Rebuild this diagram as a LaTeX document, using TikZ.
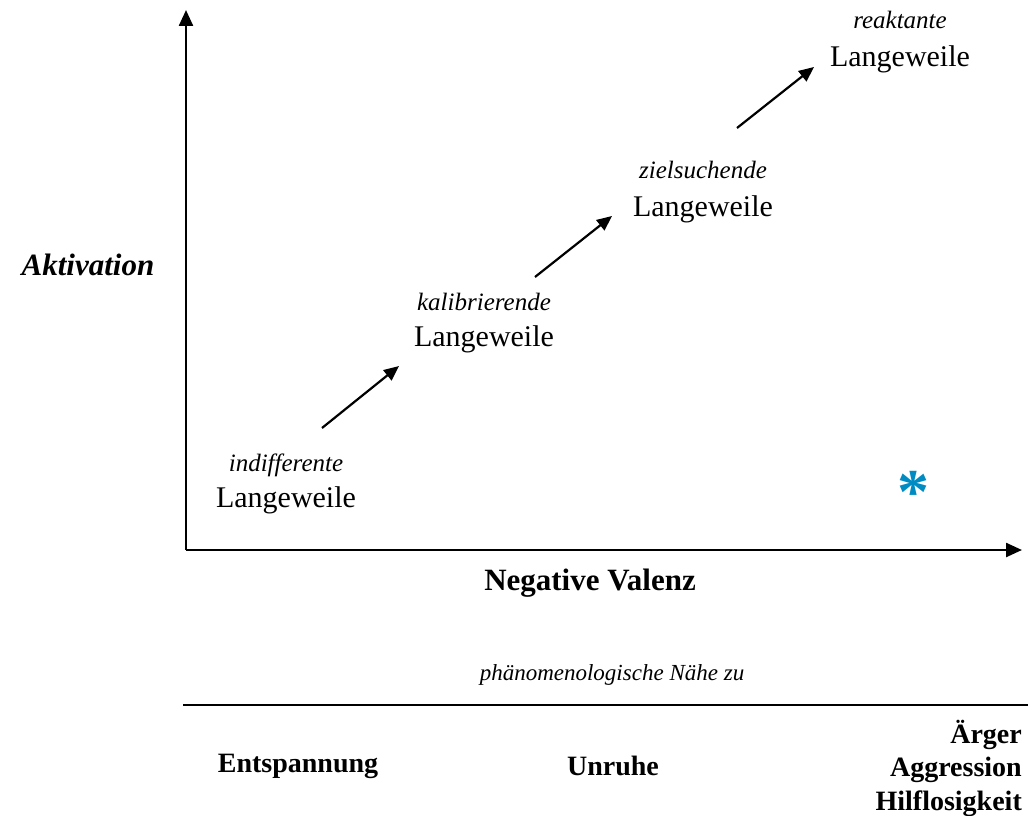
\documentclass[tikz,border=0pt]{standalone}
\usepackage{fontspec}
\setmainfont{Liberation Serif}
\usetikzlibrary{arrows.meta}
\definecolor{starblue}{RGB}{0,140,195}
\begin{document}
\begin{tikzpicture}[x=1pt,y=-1pt,
  axis/.style={line width=2.4pt,-{Triangle[length=16pt,width=14pt]}},
  step arrow/.style={line width=2.2pt,-{Triangle[length=15pt,width=13pt]}},
  kind/.style={font=\fontsize{25}{28}\selectfont\itshape,inner sep=0pt},
  word/.style={font=\fontsize{30}{34}\selectfont,inner sep=0pt},
  axlabel/.style={font=\fontsize{31}{36}\selectfont\bfseries,inner sep=0pt},
  near/.style={font=\fontsize{28}{34}\selectfont\bfseries,inner sep=0pt}]
\useasboundingbox (0,0) rectangle (1028,816);

% axes
\coordinate (origin) at (186,550);
\coordinate (ytip) at (186,10);
\coordinate (xtip) at (1022,550);
\draw[axis] (origin) -- (ytip);
\draw[axis] (origin) -- (xtip);
\node[axlabel,font=\fontsize{31}{36}\selectfont\bfseries\itshape] (akt) at (88,265) {Aktivation};
\node[axlabel] (val) at (590,583) {Negative Valenz};

% boredom types
\node[kind] (k1) at (286,465) {indifferente};
\node[word] (w1) at (286,500) {Langeweile};
\node[kind] (k2) at (484,302) {kalibrierende};
\node[word] (w2) at (484,339) {Langeweile};
\node[kind] (k3) at (703,170) {zielsuchende};
\node[word] (w3) at (703,209) {Langeweile};
\node[kind] (k4) at (900,20) {reaktante};
\node[word] (w4) at (900,59) {Langeweile};

% progression arrows
\coordinate (a1s) at (322,428);
\coordinate (a1e) at (399,366);
\coordinate (a2s) at (535,277);
\coordinate (a2e) at (612,216);
\coordinate (a3s) at (737,128);
\coordinate (a3e) at (814,67);
\draw[step arrow] (a1s) -- (a1e);
\draw[step arrow] (a2s) -- (a2e);
\draw[step arrow] (a3s) -- (a3e);

% marker
\node[text=starblue,font=\fontsize{64}{64}\selectfont\bfseries,inner sep=0pt] (star) at (913,492) {*};

% phenomenological proximity
\node[font=\fontsize{23}{28}\selectfont\itshape,inner sep=0pt] (pn) at (612,675) {phänomenologische Nähe zu};
\coordinate (l1) at (183,705);
\coordinate (l2) at (1028,705);
\draw[line width=1.6pt] (l1) -- (l2);
\node[near] (e1) at (298,766) {Entspannung};
\node[near] (e2) at (613,766) {Unruhe};
\node[near,anchor=east] (e3) at (1022,735) {Ärger};
\node[near,anchor=east] (e4) at (1022,770) {Aggression};
\node[near,anchor=east] (e5) at (1022,804) {Hilflosigkeit};
\end{tikzpicture}
\end{document}
